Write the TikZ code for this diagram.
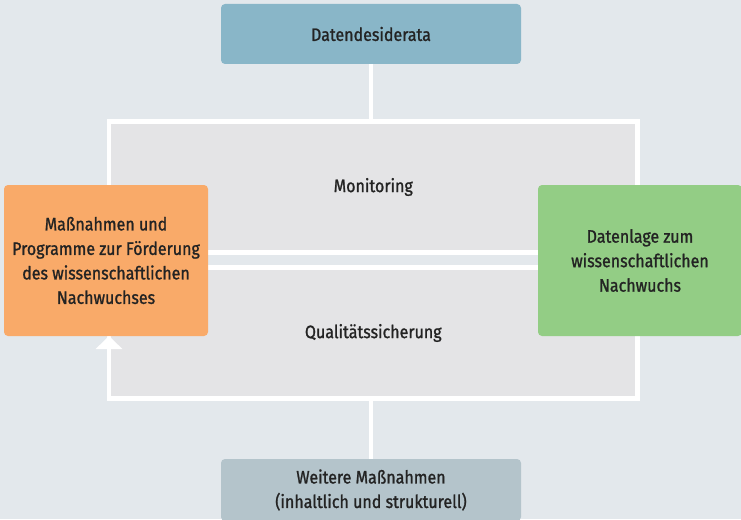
\documentclass[tikz,border=0pt]{standalone}
\usepackage{fontspec}
\setmainfont{Fira Sans}[FakeStretch=0.89, FakeBold=1.2]
\usetikzlibrary{arrows.meta}
\definecolor{bgc}{RGB}{227,232,236}
\definecolor{framec}{RGB}{228,228,230}
\definecolor{bluec}{RGB}{137,182,200}
\definecolor{orangec}{RGB}{249,170,105}
\definecolor{greenc}{RGB}{147,205,133}
\definecolor{bottomc}{RGB}{180,196,203}
\definecolor{txtc}{RGB}{35,35,35}
\begin{document}
\begin{tikzpicture}[x=1pt,y=-1pt,
  lbl/.style={text=txtc, align=center, font=\fontsize{18}{24.5}\selectfont},
  box/.style={lbl, rounded corners=4pt, inner sep=0pt, outer sep=0pt},
  frame/.style={lbl, fill=framec, draw=white, line width=4.5pt, inner sep=0pt, outer sep=0pt,
    minimum width=528.5pt, minimum height=131pt},
  conn/.style={draw=white, line width=4.5pt}]
\fill[bgc] (0,0) rectangle (741,519);
\useasboundingbox (0,0) rectangle (741,519);
\node[frame] (mon) at (373.25,187) {Monitoring};
\node[frame] (qs) at (373.25,333) {Qualitätssicherung};
\node[box, fill=bluec, minimum width=300pt, minimum height=60pt] (dd) at (371,34) {Datendesiderata};
\node[box, fill=bottomc, minimum width=300pt, minimum height=62pt] (wm) at (371,490) {Weitere Maßnahmen\\(inhaltlich und strukturell)};
\node[box, fill=orangec, minimum width=204pt, minimum height=151pt] (mp) at (106,260.5) {Maßnahmen und\\Programme zur Förderung\\des wissenschaftlichen\\Nachwuchses};
\node[box, fill=greenc, minimum width=204pt, minimum height=151pt] (dl) at (640,260.5) {Datenlage zum\\wissenschaftlichen\\Nachwuchs};
\draw[conn] (dd.south) -- (dd.south |- mon.north);
\draw[conn] (wm.north) -- (wm.north |- qs.south);
\draw[conn, -{Triangle[width=26pt,length=13pt]}] (qs.south west) -- (qs.south west |- mp.south);
\end{tikzpicture}
\end{document}
